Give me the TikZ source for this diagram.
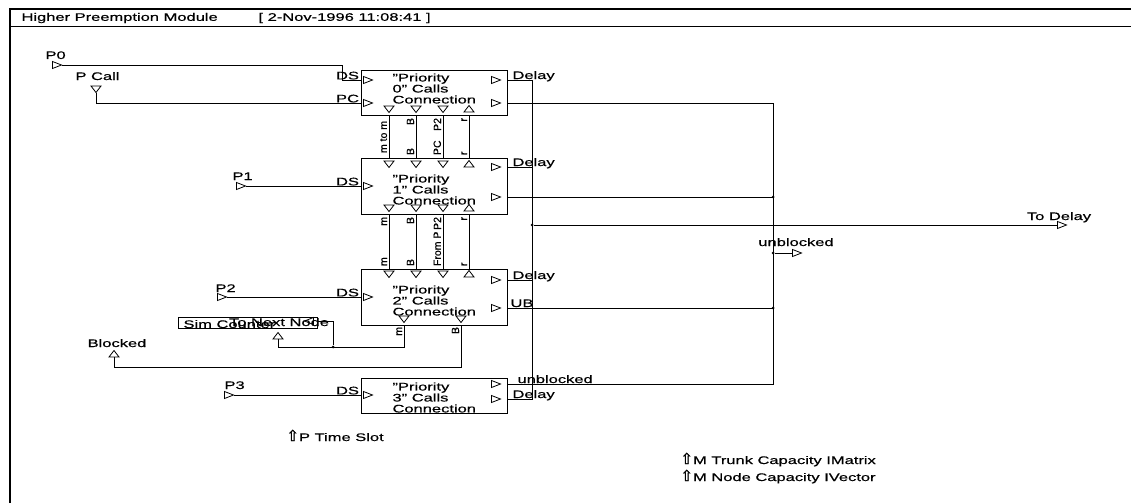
\documentclass[tikz,border=0pt]{standalone}
\usepackage{fontspec}
\setmainfont{Liberation Sans}[FakeStretch=1.5, FakeBold=0.5]
\newfontfamily\vfont{Liberation Sans}[FakeBold=0.5]
\newfontfamily\arrowfont{DejaVu Sans}[FakeBold=1]
\usetikzlibrary{positioning}

\tikzset{
  pinline/.style={line width=0.8pt},
  pr/.pic={\draw[pinline] (-4.5,-3.5) -- (4.5,0) -- (-4.5,3.5) -- cycle;
           \coordinate (-tip) at (4.5,0); \coordinate (-back) at (-4.5,0);},
  pl/.pic={\draw[pinline] (4.5,-3.5) -- (-4.5,0) -- (4.5,3.5) -- cycle;
           \coordinate (-tip) at (-4.5,0); \coordinate (-back) at (4.5,0);},
  pd/.pic={\draw[pinline] (-5,-3) -- (0,3.5) -- (5,-3) -- cycle;
           \coordinate (-tip) at (0,3.5); \coordinate (-back) at (0,-3);},
  pu/.pic={\draw[pinline] (-5,3) -- (0,-3.5) -- (5,3) -- cycle;
           \coordinate (-tip) at (0,-3.5); \coordinate (-back) at (0,3);},
}
\newcommand{\parup}{{\arrowfont\fontsize{15}{15}\selectfont ⇧}}

\begin{document}
\begin{tikzpicture}[
  x=1pt, y=-1pt, line width=1pt,
  font=\fontsize{11}{11}\selectfont,
  blk/.style={draw, minimum width=146pt, inner sep=0pt},
  txt/.style={anchor=north west, align=left, inner sep=0pt},
  lab/.style={inner sep=0pt},
  vl/.style={rotate=90, inner sep=0.5pt, font=\vfont\fontsize{10.5}{10.5}\selectfont},
  jdot/.style={circle, fill, inner sep=0pt, minimum size=3pt},
]
  \useasboundingbox (0,0) rectangle (1131,503);

  %% Frame and title bar
  \draw[line width=1.1pt] (10,503) -- (10,9) -- (1131,9);
  \draw (10,27) -- (1131,27);
  \node[lab, anchor=west] (ttl) at (21,18) {Higher Preemption Module};
  \node[lab, anchor=west] (stamp) at (258,18) {[ 2-Nov-1996 11:08:41 ]};

  %% Connection blocks
  \node[blk, minimum height=45pt] (b0) at (434,92.5) {};
  \node[blk, minimum height=56pt] (b1) at (434,186) {};
  \node[blk, minimum height=56pt] (b2) at (434,297) {};
  \node[blk, minimum height=35pt] (b3) at (434,395.5) {};
  \node[txt] (t0) at (392,73) {"Priority\\0" Calls\\Connection};
  \node[txt] (t1) at (392,174) {"Priority\\1" Calls\\Connection};
  \node[txt] (t2) at (392,285) {"Priority\\2" Calls\\Connection};
  \node[txt] (t3) at (392,382) {"Priority\\3" Calls\\Connection};

  %% Block pins
  \coordinate (i0ds) at (368,80);  \coordinate (i0pc) at (368,103);
  \coordinate (i1ds) at (368,186); \coordinate (i2ds) at (368,297);
  \coordinate (i3ds) at (368,395);
  \foreach \c in {i0ds,i0pc,i1ds,i2ds,i3ds} \pic at (\c) {pr};
  \coordinate (o0a) at (496,80);  \coordinate (o0b) at (496,103);
  \coordinate (o1a) at (496,167); \coordinate (o1b) at (496,197);
  \coordinate (o2a) at (496,280); \coordinate (o2b) at (496,308);
  \coordinate (o3a) at (496,384); \coordinate (o3b) at (496,399);
  \foreach \c in {o0a,o0b,o1a,o1b,o2a,o2b,o3a,o3b} \pic at (\c) {pr};
  \foreach \x in {389,416,443}
    \foreach \y in {109,164,208,274}
      \pic at (\x,\y) {pd};
  \foreach \y in {109,164,208,274}
    \pic at (469,\y) {pu};
  \pic at (404,319) {pd};
  \pic at (461,319) {pd};

  %% Links between the blocks
  \foreach \x in {389,416,443,469} {
    \draw (b0.south -| \x,0) -- (b1.north -| \x,0);
    \draw (b1.south -| \x,0) -- (b2.north -| \x,0);
  }
  \node[vl, anchor=south] (lmm) at (388,137) {m to m};
  \node[vl, anchor=south east] (lb0) at (415,117) {B};
  \node[vl, anchor=south east] (lp0) at (442,117) {P2};
  \node[vl, anchor=south east] (lr0) at (468,117) {r};
  \node[vl, anchor=south west] (lb1) at (415,156) {B};
  \node[vl, anchor=south west] (lpc1) at (442,156) {PC};
  \node[vl, anchor=south west] (lr1) at (468,156) {r};
  \node[vl, anchor=south east] (lm1) at (388,216) {m};
  \node[vl, anchor=south east] (lb1b) at (415,216) {B};
  \node[vl, anchor=south east] (lp1b) at (442,216) {P2};
  \node[vl, anchor=south east] (lr1b) at (468,216) {r};
  \node[vl, anchor=south west] (lm2) at (388,267) {m};
  \node[vl, anchor=south west] (lb2) at (415,267) {B};
  \node[vl, anchor=south west] (lfp2) at (442,267) {From P};
  \node[vl, anchor=south west] (lr2) at (468,267) {r};

  %% Priority inputs
  \node[lab, anchor=base west] (np0) at (45,59) {P0};
  \pic (p0) at (57,65) {pr};
  \draw (p0-tip) -| (342,80) -- (b0.west |- i0ds)
    node[lab, anchor=south east, pos=1, xshift=-1pt] (ds0) {DS};
  \node[lab, anchor=base west] (npc) at (75,80) {P Call};
  \pic (pc) at (96,89) {pd};
  \draw (pc-tip) |- (b0.west |- i0pc)
    node[lab, anchor=south east, pos=1, xshift=-1pt] (pc0) {PC};
  \node[lab, anchor=base west] (np1) at (232,180) {P1};
  \pic (p1) at (241,186) {pr};
  \draw (p1-tip) -- (b1.west |- i1ds)
    node[lab, anchor=south east, pos=1, xshift=-1pt] (ds1) {DS};
  \node[lab, anchor=base west] (np2) at (215,292) {P2};
  \pic (p2) at (222,297) {pr};
  \draw (p2-tip) -- (b2.west |- i2ds)
    node[lab, anchor=south east, pos=1, xshift=-1pt] (ds2) {DS};
  \node[lab, anchor=base west] (np3) at (224,389) {P3};
  \pic (p3) at (229,395) {pr};
  \draw (p3-tip) -- (b3.west |- i3ds)
    node[lab, anchor=south east, pos=1, xshift=-1pt] (ds3) {DS};

  %% Sim counter, next node and blocked outputs
  \node[draw, minimum width=139pt, minimum height=11pt, inner sep=0pt] (sim) at (247.5,322.5) {};
  \node[lab, anchor=base west] (simt) at (183,328) {Sim Counter};
  \pic (sci) at (309,321) {pl};
  \node[lab, anchor=base] (ntn) at (279,326) {To Next Node};
  \pic (tnn) at (278,336) {pu};
  \node[lab, anchor=base] (nblk) at (117,347) {Blocked};
  \pic (blkd) at (114,354) {pu};
  \node[vl, anchor=south east] (lm3) at (403,326) {m};
  \node[vl, anchor=south east] (lb3) at (460,326) {B};
  \node[jdot] (j1) at (333,347) {};
  \draw (b2.south -| 404,0) -- (404,347) -| (tnn-back);
  \draw (j1) |- (sim.east |- 0,321);
  \draw (b2.south -| 461,0) |- (114,367) -- (blkd-back);

  %% Delay bus
  \draw (b0.east |- o0a) -| (532,399) -- (b3.east |- o3b);
  \draw (b1.east |- o1a) -- (532,167);
  \draw (b2.east |- o2a) -- (532,280);
  \node[lab, anchor=base west] (d0) at (512,79) {Delay};
  \node[lab, anchor=base west] (d1) at (512,166) {Delay};
  \node[lab, anchor=base west] (d2) at (512,279) {Delay};
  \node[lab, anchor=base west] (d3) at (512,398) {Delay};
  \node[jdot] (ja) at (532,225) {};
  \pic (tod) at (1062,225) {pr};
  \draw (ja) -- (tod-back);
  \node[lab, anchor=base] (ntod) at (1059,220) {To Delay};

  %% Unblocked bus
  \draw (b0.east |- o0b) -| (773,384) -- (b3.east |- o3a);
  \draw (b1.east |- o1b) -- (773,197);
  \draw (b2.east |- o2b) -- (773,308);
  \node[jdot] (jb1) at (773,197) {};
  \node[jdot] (jb2) at (773,308) {};
  \node[lab, anchor=base west] (ub2) at (510,307) {UB};
  \node[lab, anchor=base west] (ub3) at (517,383) {unblocked};
  \node[jdot] (jb) at (773,253) {};
  \pic (unb) at (797,253) {pr};
  \draw (jb) -- (unb-back);
  \node[lab, anchor=base] (nunb) at (796,246) {unblocked};

  %% Parameters
  \node[lab, anchor=base west] (tslot) at (286,441) {\parup P Time Slot};
  \node[lab, anchor=base west] (trunk) at (680,464) {\parup M Trunk Capacity IMatrix};
  \node[lab, anchor=base west] (ncap) at (680,481) {\parup M Node Capacity IVector};
\end{tikzpicture}
\end{document}
